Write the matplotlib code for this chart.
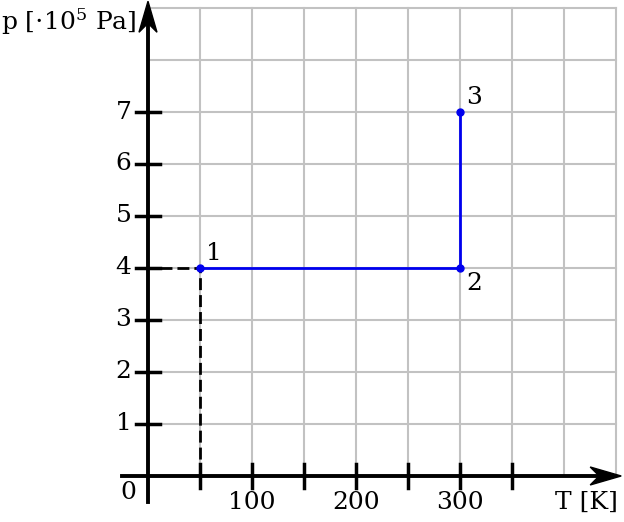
import matplotlib
matplotlib.use("Agg")
import matplotlib.pyplot as plt
from matplotlib.patches import Polygon

# process 1 -> 2 -> 3
T = [50, 300, 300]
p = [4, 4, 7]
point_names = ['1', '2', '3']
x_ticks = [50, 100, 150, 200, 250, 300, 350]
x_labels = ['', '100', '', '200', '', '300', '']
y_ticks = [1, 2, 3, 4, 5, 6, 7]
y_labels = ['1', '2', '3', '4', '5', '6', '7']

plt.rcParams['font.family'] = 'DejaVu Serif'
plt.rcParams['mathtext.fontset'] = 'dejavuserif'

fig = plt.figure(figsize=(6.24, 5.22), dpi=100)
ax = fig.add_axes([0, 0, 1, 1])
ax.set_xlim(-142.3, 457.7)
ax.set_ylim(-0.885, 9.154)
ax.axis('off')

grid_c = '#c2c2c2'
for x in range(50, 451, 50):
    ax.plot([x, x], [0, 9], color=grid_c, lw=1.5, zorder=1)
for y in range(1, 10):
    ax.plot([0, 450], [y, y], color=grid_c, lw=1.5, zorder=1)

# axes lines
ax.plot([-25, 440], [0, 0], color='black', lw=2.8, zorder=3)
ax.plot([0, 0], [-0.5, 8.9], color='black', lw=2.8, zorder=3)
# arrow heads (notched)
px, py = 1.04, 52.0  # pixels per data unit
tx, ty = 455, 9.13
ax.add_patch(Polygon([(tx, 0), (tx - 31 / px, 9 / py), (tx - 22 / px, 0), (tx - 31 / px, -9 / py)],
                     closed=True, color='black', zorder=4))
ax.add_patch(Polygon([(0, ty), (9 / px, ty - 31 / py), (0, ty - 22 / py), (-9 / px, ty - 31 / py)],
                     closed=True, color='black', zorder=4))

# ticks
for x, lab in zip(x_ticks, x_labels):
    ax.plot([x, x], [-0.23, 0.23], color='black', lw=2.5, zorder=3)
    if lab:
        ax.text(x, -0.29, lab, ha='center', va='top', fontsize=18)
for y, lab in zip(y_ticks, y_labels):
    ax.plot([-11.5, 11.5], [y, y], color='black', lw=2.5, zorder=3)
    ax.text(-16, y, lab, ha='right', va='center', fontsize=18)

ax.text(-19, -0.1, '0', ha='center', va='top', fontsize=18)
ax.text(452, -0.29, 'T [K]', ha='right', va='top', fontsize=18)
ax.text(-11, 8.73, r'p [$\cdot$10$^5$ Pa]', ha='right', va='center', fontsize=18)

# dashed helper lines
ax.plot([11.5, 50], [4, 4], color='black', lw=2, ls=(0, (4.3, 1.8)), zorder=2)
ax.plot([50, 50], [0, 4], color='black', lw=2, ls=(0, (4.3, 1.8)), zorder=2)

ax.plot(T, p, color='#0000ee', lw=2, zorder=4)
ax.plot(T, p, 'o', color='#0000ee', ms=5, zorder=5)

offsets = [(6, 0.06, 'left', 'bottom'), (6, -0.08, 'left', 'top'), (6, 0.06, 'left', 'bottom')]
for x, y, name, (dx, dy, ha, va) in zip(T, p, point_names, offsets):
    ax.text(x + dx, y + dy, name, ha=ha, va=va, fontsize=18)

fig.savefig('out.png', dpi=100)
